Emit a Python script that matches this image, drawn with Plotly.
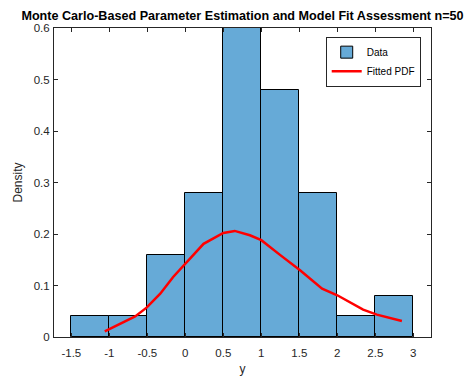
import plotly.graph_objects as go

# Histogram data (density), bins of width 0.5
bin_edges = [-1.5, -1.0, -0.5, 0.0, 0.5, 1.0, 1.5, 2.0, 2.5, 3.0]
density = [0.04, 0.04, 0.16, 0.28, 0.60, 0.48, 0.28, 0.04, 0.08]

# Fitted PDF curve
pdf_x = [-1.06, -0.66, -0.51, -0.33, -0.16, 0.0, 0.24, 0.5, 0.65, 0.85, 1.0, 1.25, 1.51, 1.8, 2.0, 2.34, 2.52, 2.85]
pdf_y = [0.011, 0.040, 0.057, 0.084, 0.1165, 0.1425, 0.181, 0.202, 0.206, 0.1975, 0.188, 0.159, 0.1295, 0.094, 0.081, 0.053, 0.0435, 0.031]

x_ticks = [-1.5, -1, -0.5, 0, 0.5, 1, 1.5, 2, 2.5, 3]
y_ticks = [0, 0.1, 0.2, 0.3, 0.4, 0.5, 0.6]

centers = [(bin_edges[i] + bin_edges[i + 1]) / 2 for i in range(len(density))]
widths = [bin_edges[i + 1] - bin_edges[i] for i in range(len(density))]

axcol = "#262626"
font = "Liberation Sans, Arial, sans-serif"

fig = go.Figure()
fig.add_trace(go.Bar(
    x=centers, y=density, width=widths, name="Data",
    marker=dict(color="#66AAD7", line=dict(color="black", width=1)),
))
fig.add_trace(go.Scatter(
    x=pdf_x, y=pdf_y, mode="lines", name="Fitted PDF",
    line=dict(color="#FF0000", width=2.5),
))

# page body has an 8px margin, compensate so the plot area lands at 54..431 x 28..337
fig.update_layout(
    width=464, height=371,
    margin=dict(l=46, r=41, t=20, b=42),
    paper_bgcolor="white", plot_bgcolor="white",
    font=dict(family=font, size=11.5, color=axcol),
    title=dict(
        text="<b>Monte Carlo-Based Parameter Estimation and Model Fit Assessment n=50</b>",
        x=0.5, xref="paper", xanchor="center",
        y=1 - 7.5 / 371, yref="container", yanchor="middle",
        font=dict(family=font, size=12.6, color="black"),
    ),
    bargap=0,
    showlegend=True,
    legend=dict(
        x=0.9727, y=0.972, xanchor="right", yanchor="top",
        bgcolor="white", bordercolor=axcol, borderwidth=1,
        font=dict(family=font, size=10, color="black"),
        tracegroupgap=0, itemwidth=30,
    ),
    xaxis=dict(
        range=[-1.728, 3.233], tickvals=x_ticks,
        ticktext=[f"{v:g}" for v in x_ticks],
        ticks="inside", ticklen=4, tickcolor=axcol,
        ticklabelstandoff=5,
        showline=True, linecolor=axcol, linewidth=1, mirror="ticks",
        showgrid=False, zeroline=False, automargin=False,
        title=dict(text="y", font=dict(family=font, size=12, color=axcol), standoff=6),
    ),
    yaxis=dict(
        range=[0, 0.6], tickvals=y_ticks,
        ticktext=[f"{v:g}" for v in y_ticks],
        ticks="inside", ticklen=4, tickcolor=axcol,
        ticklabelstandoff=1,
        showline=True, linecolor=axcol, linewidth=1, mirror="ticks",
        showgrid=False, zeroline=False, automargin=False,
        title=dict(text="Density", font=dict(family=font, size=12, color=axcol), standoff=8),
    ),
)

fig.write_html("out.html")
